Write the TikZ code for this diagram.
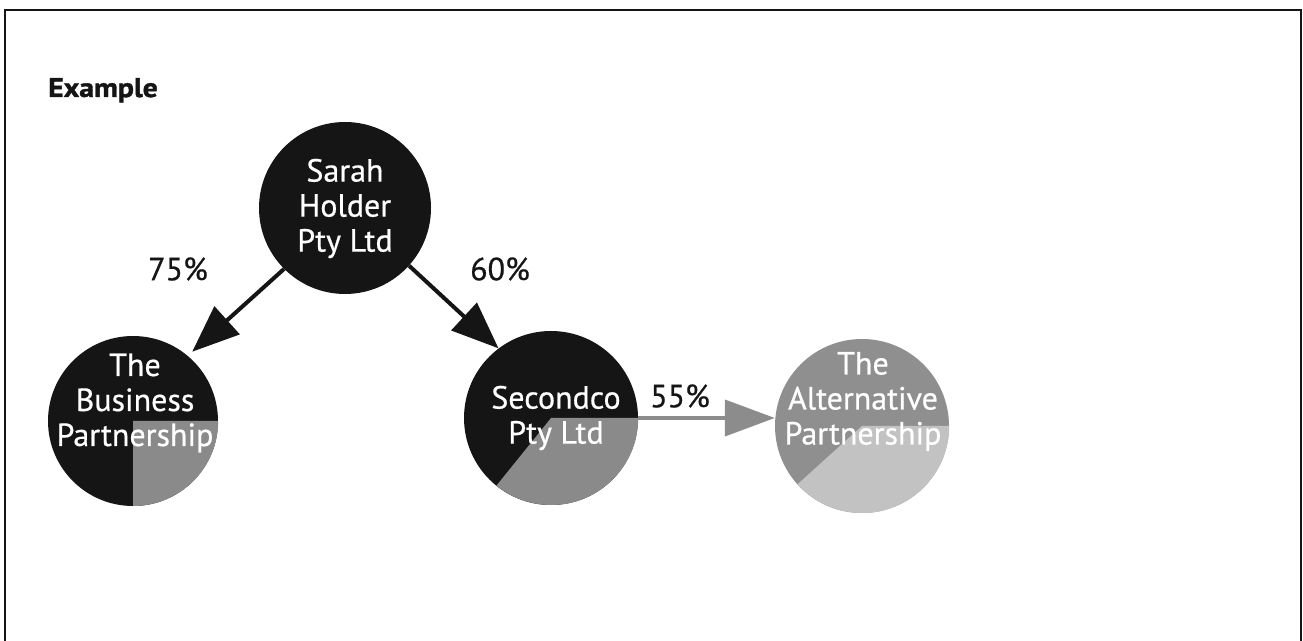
\documentclass[tikz,border=0pt]{standalone}
\usepackage{fontspec}
\setmainfont{PT Sans}
\newfontfamily\disctext[FakeBold=0.6]{PT Sans}
\newfontfamily\titlefont[FakeBold=1.4,FakeStretch=1.1]{PT Sans}
\usetikzlibrary{arrows.meta}
\definecolor{ink}{HTML}{151515}
\definecolor{pgrey}{HTML}{8A8A8A}
\definecolor{altmid}{HTML}{8F8F8F}
\definecolor{altlight}{HTML}{C2C2C2}
\definecolor{agrey}{HTML}{8C8C8C}
\begin{document}
\begin{tikzpicture}[x=1pt,y=1pt,
  disc/.style={circle, inner sep=0pt, minimum size=#1, fill=ink},
  ctext/.style={text=white, align=center, inner sep=0pt, font=\disctext\fontsize{32}{35}\selectfont},
  pct/.style={text=ink, inner sep=0pt, font=\disctext\fontsize{32}{35}\selectfont},
  blackarr/.style={draw=ink, line width=4pt, -{Triangle[length=47pt,width=37pt]}},
  greyarr/.style={draw=agrey, line width=4pt, -{Triangle[length=50pt,width=36pt]}},
  frame/.style={draw=ink, line width=1.6pt}]
\useasboundingbox (0,0) rectangle (1303,640);
% frame
\draw[frame] (5,-10) -- (5,630) -- (1301,630) -- (1301,-10);
% title
\node[anchor=base west, inner sep=0pt, text=ink, font=\titlefont\bfseries\fontsize{27}{30}\selectfont] (ex) at (48,543) {Example};
% discs
\node[disc=172pt] (sarah) at (345,432) {};
\node[disc=170pt] (bp) at (133,219) {};
\node[disc=174pt] (sc) at (551,222) {};
\node[disc=174pt, fill=altmid] (alt) at (862,214) {};
% pie parts
\fill[pgrey] (bp.center) -- (bp.east) arc[start angle=0, end angle=-90, radius=85] -- cycle;
\fill[pgrey] (sc.center) -- (sc.east) arc[start angle=0, end angle=-129, radius=87] -- cycle;
\fill[altlight] (alt.center) -- (alt.east) arc[start angle=0, end angle=-138, radius=87] -- cycle;
% connectors
\draw[blackarr, shorten >=6pt] (sarah.225) -- (bp.50);
\draw[blackarr] (sarah.-42) -- (sc.127);
\draw[greyarr] (sc.east) -- (sc.east -| alt.west);
% texts
\node[ctext] (sarahT) at (345,431.5) {Sarah\\Holder\\Pty Ltd};
\node[ctext] (bpT) at (135,237) {The\\Business\\Partnership};
\node[ctext] (scT) at (556,222) {Secondco\\Pty Ltd};
\node[ctext] (altT) at (863,238.5) {The\\Alternative\\Partnership};
% percentages
\node[pct] (p75) at (178,371) {75\%};
\node[pct] (p60) at (500,371) {60\%};
\node[pct] (p55) at (680,244) {55\%};
\end{tikzpicture}
\end{document}
